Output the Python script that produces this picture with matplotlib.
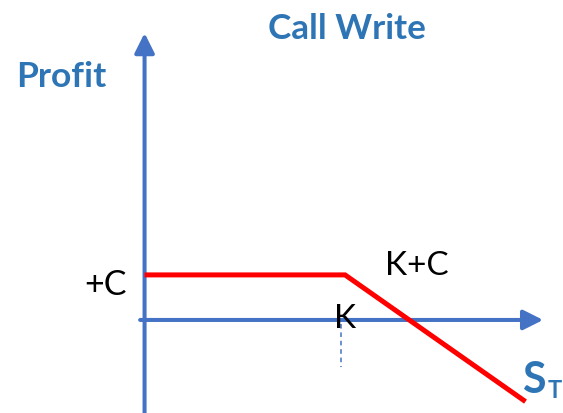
import numpy as np
import matplotlib
matplotlib.use("Agg")
import matplotlib.pyplot as plt

# Short call payoff: strike K, premium C received
strike = 100
premium = 32
spot_at_expiry = [0, strike, 190]
profit = [premium - max(s - strike, 0) for s in spot_at_expiry]

title_text = "Call Write"
y_label = "Profit"
premium_label = "+C"
strike_label = "K"
breakeven_label = "K+C"

AXIS_BLUE = "#4472C4"
TEXT_BLUE = "#2E75B6"
PAYOFF_RED = "#FF0000"

fig = plt.figure(figsize=(5.63, 4.14), dpi=100)
ax = fig.add_axes([0, 0, 1, 1])
ax.set_xlim(-72.1, 208.7)
ax.set_ylim(-66.1, 228.0)
ax.axis("off")

arrow = dict(arrowstyle="-|>,head_length=0.6,head_width=0.3",
             mutation_scale=20, lw=2.9, color=AXIS_BLUE,
             shrinkA=0, shrinkB=0)
# vertical (profit) axis
ax.annotate("", xy=(0, 203.8), xytext=(0, -70), arrowprops=arrow)
# horizontal (S_T) axis
ax.annotate("", xy=(198.8, 0), xytext=(-2.2, 0), arrowprops=arrow)

# payoff line
ax.plot(spot_at_expiry, profit, color=PAYOFF_RED, lw=3.6,
        solid_capstyle="butt", solid_joinstyle="miter", zorder=3)

# dashed marker below strike
ax.plot([strike - 2, strike - 2], [-2.8, -33.4], color=AXIS_BLUE, lw=1.1,
        ls=(0, (3, 2.5)))

font = "Lato"
ax.text(101, 200.3, title_text, ha="center", va="baseline", color=TEXT_BLUE,
        fontsize=25.3, fontweight="bold", family=font)
ax.text(-64.1, 166.2, y_label, ha="left", va="baseline", color=TEXT_BLUE,
        fontsize=25.5, fontweight="bold", family=font)
ax.text(-8.7, 18.5, premium_label, ha="right", va="baseline", color="black",
        fontsize=24.5, family=font)
ax.text(135.9, 32.7, breakeven_label, ha="center", va="baseline", color="black",
        fontsize=24, family=font)
ax.text(strike, -5.0, strike_label, ha="center", va="baseline", color="black",
        fontsize=24, family=font)
ax.text(188.3, -51.0, "S", ha="left", va="baseline", color=TEXT_BLUE,
        fontsize=31, fontweight="bold", family=font)
ax.text(201.2, -54.5, "T", ha="left", va="baseline", color=TEXT_BLUE,
        fontsize=17, fontweight="bold", family=font)

fig.savefig("out.png", dpi=100)
